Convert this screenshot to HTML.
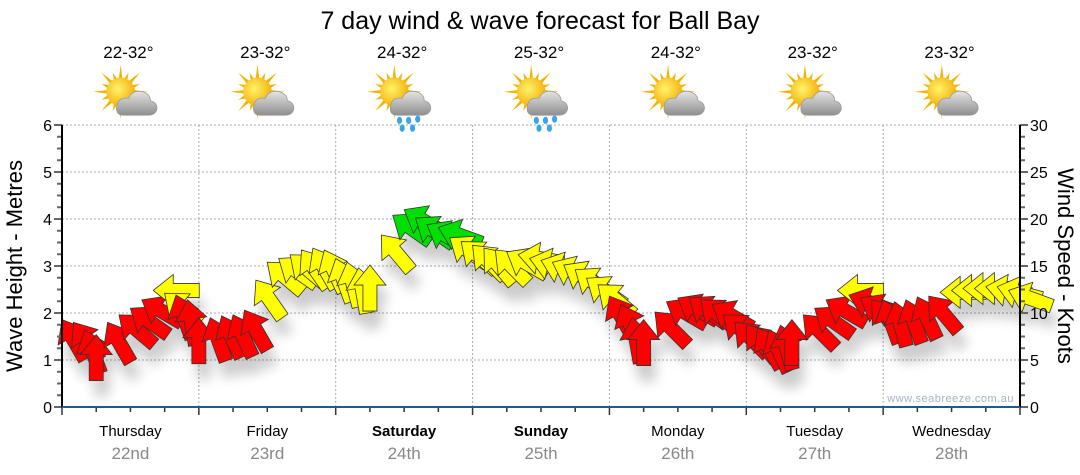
<!DOCTYPE html>
<html><head><meta charset="utf-8"><style>
body{margin:0;background:#fff;width:1080px;height:475px;overflow:hidden;font-family:"Liberation Sans",Arial,sans-serif}
svg{display:block}
</style></head><body>
<svg id="chart" width="1080" height="475" viewBox="0 0 1080 475">
<defs>
<filter id="sh" x="-50%" y="-50%" width="200%" height="200%"><feGaussianBlur stdDeviation="6"/></filter>
<radialGradient id="sun" cx="0.4" cy="0.4" r="0.7"><stop offset="0" stop-color="#fff36a"/><stop offset="1" stop-color="#f2a800"/></radialGradient>
<linearGradient id="cloud" x1="0" y1="0" x2="0" y2="1"><stop offset="0" stop-color="#e4e4e4"/><stop offset="1" stop-color="#8e8e8e"/></linearGradient>
</defs>
<text x="540" y="29" text-anchor="middle" font-size="25" fill="#000">7 day wind &amp; wave forecast for Ball Bay</text>
<g id="grid"></g>
<g id="icons"></g>
<g id="shadows" filter="url(#sh)" opacity="0.2"></g>
<g id="arrows"></g>
<g id="axes"></g>
<text transform="translate(22,266) rotate(-90)" text-anchor="middle" font-size="22">Wave Height - Metres</text>
<text transform="translate(1058,266) rotate(90)" text-anchor="middle" font-size="22">Wind Speed - Knots</text>
<text x="1014" y="402" text-anchor="end" font-size="11" fill="#a8b0c0" letter-spacing="0.5">www.seabreeze.com.au</text>
</svg>
<script>
const days = ["Thursday","Friday","Saturday","Sunday","Monday","Tuesday","Wednesday"];
const dates = ["22nd","23rd","24th","25th","26th","27th","28th"];
const boldDays = [false,false,true,true,false,false,false];
const temps = ["22-32°","23-32°","24-32°","25-32°","24-32°","23-32°","23-32°"];
const rainy = [false,false,true,true,false,false,false];
const leftTicks = [0,1,2,3,4,5,6];
const rightTicks = [0,5,10,15,20,25,30];
const windKnots = [9.3,9.0,8.2,7.7,9.0,9.8,10.5,11.4,12.4,12.1,11.9,11.4,
 9.5,9.5,9.7,9.8,10.3,13.5,15.4,15.8,16.2,16.7,16.9,16.7,
 15.8,15.4,14.8,15.1,18.3,20.4,21.0,20.1,19.4,19.1,18.0,17.6,
 17.2,16.9,16.7,16.5,16.2,15.8,15.6,15.4,15.1,14.6,13.7,13.0,
 11.8,10.9,9.5,9.3,10.1,11.2,11.6,11.6,11.4,10.9,9.8,9.0,
 8.7,8.4,8.2,8.7,9.3,9.8,10.5,11.4,12.4,11.9,11.6,11.4,
 11.4,11.2,11.4,11.7,11.8,12.2,12.4,12.6,12.6,12.8,12.8,12.4];
const windDir = [-30,-35,-20,0,-30,-50,-55,-60,-90,-50,-20,-10,
 0,-20,-25,-25,-30,-35,-50,-55,-50,-35,-30,-25,
 -20,-15,-10,0,-40,-55,-60,-55,-60,-70,-55,-50,
 -45,-40,-45,-60,-80,-75,-70,-65,-60,-55,-55,-50,
 -30,-25,-10,0,-45,-60,-60,-55,-50,-60,-50,-45,
 -40,-30,-25,-15,0,-45,-55,-60,-90,-70,-60,-40,
 -20,-15,-20,-25,-40,-90,-90,-90,-90,-80,-75,-70];

const X0=62,X1=1020,Y0=407,Y1=125;
const dayW=(X1-X0)/7;
const xT=t=>X0+t*dayW;
const yM=m=>Y0-(Y0-Y1)*m/6;
const yK=k=>Y0-(Y0-Y1)*k/30;
const NS="http://www.w3.org/2000/svg";
function mk(tag,attrs,parent){const e=document.createElementNS(NS,tag);for(const k in attrs)e.setAttribute(k,attrs[k]);parent.appendChild(e);return e;}
const grid=document.getElementById('grid'),axes=document.getElementById('axes'),icons=document.getElementById('icons');

leftTicks.forEach(v=>{if(v>0){const l=mk('line',{x1:X0,x2:X1,y1:yM(v),y2:yM(v),stroke:'#aaa','stroke-dasharray':'2,2'},grid);

}
const t=mk('text',{x:X0-10,y:yM(v)+6,'text-anchor':'end','font-size':'16',fill:'#000'},axes);t.textContent=v;

});
rightTicks.forEach(v=>{const t=mk('text',{x:X1+10,y:yK(v)+6,'font-size':'16',fill:'#000'},axes);t.textContent=v;

});
for(let m=0;m<=24;m++){const y=Y0-(Y0-Y1)*m/24;const w=(m%4==0)?8:5;
mk('line',{x1:X0-w,x2:X0,y1:y,y2:y,stroke:'#666','stroke-width':2},axes);
mk('line',{x1:X1,x2:X1+w,y1:y,y2:y,stroke:'#666','stroke-width':2},axes);}
for(let d=1;d<7;d++){const l=mk('line',{x1:xT(d),x2:xT(d),y1:Y1,y2:Y0,stroke:'#aaa','stroke-dasharray':'2,2'},grid);

}
for(let q=0;q<=28;q++){const x=xT(q/4);mk('line',{x1:x,x2:x,y1:Y0,y2:Y0+(q%4==0?8:5),stroke:'#333','stroke-width':1.5},axes);}
mk('line',{x1:X0,x2:X0,y1:Y1,y2:Y0,stroke:'#000','stroke-width':2},axes);
mk('line',{x1:X1,x2:X1,y1:Y1,y2:Y0,stroke:'#000','stroke-width':2},axes);
mk('line',{x1:X0,x2:X1,y1:Y0,y2:Y0,stroke:'#1f5a8a','stroke-width':2},axes);

days.forEach((d,i)=>{const cx=xT(i+0.5);
const t=mk('text',{x:cx,y:436,'text-anchor':'middle','font-size':'15','font-weight':boldDays[i]?'bold':'normal'},axes);t.textContent=d;


const t2=mk('text',{x:cx,y:459,'text-anchor':'middle','font-size':'17',fill:'#888'},axes);t2.textContent=dates[i];


const t3=mk('text',{x:cx-2,y:58,'text-anchor':'middle','font-size':'17'},icons);t3.textContent=temps[i];


const g=mk('g',{transform:`translate(${cx-2},97) scale(1.3)`},icons);


for(let r=0;r<16;r++){const a=r*Math.PI/8,L=(r%2)?16:21;mk('polygon',{points:`${-6+Math.cos(a)*L},${-4+Math.sin(a)*L} ${-6+Math.cos(a+0.14)*10},${-4+Math.sin(a+0.14)*10} ${-6+Math.cos(a-0.14)*10},${-4+Math.sin(a-0.14)*10}`,fill:'#f2b400'},g);}
mk('circle',{cx:-6,cy:-4,r:11,fill:'url(#sun)'},g);
mk('path',{d:'M-4,14 Q-10,14 -9,7 Q-8,0 0,1 Q3,-6 11,-4 Q17,-2 17,3 Q22,4 22,9 Q21,14 15,14 Z',fill:'url(#cloud)',stroke:'#999','stroke-width':0.6},g);
if(rainy[i]){[[-2,18],[5,18],[12,17],[0,24],[8,24]].forEach(p=>mk('ellipse',{cx:p[0],cy:p[1],rx:2,ry:2.8,fill:'#3aa6e8'},g));}
});

const arrowPts="0,0 16,20 7,20 7,46 -7,46 -7,20 -16,20";
const sh=document.getElementById('shadows'),ar=document.getElementById('arrows');
windKnots.forEach((k,i)=>{const x=xT(i/12),y=yK(k);
const col=k>=19?'#00e000':(k>=12?'#ffff00':'#ff0000');
const s=mk('polygon',{points:arrowPts,transform:`translate(${x+5},${y+16}) rotate(${windDir[i]})`,fill:'#000'},sh);


const p=mk('polygon',{points:arrowPts,transform:`translate(${x},${y}) rotate(${windDir[i]})`,fill:col,stroke:'#333','stroke-width':0.8,'stroke-linejoin':'miter'},ar);


});
</script>
</body></html>
